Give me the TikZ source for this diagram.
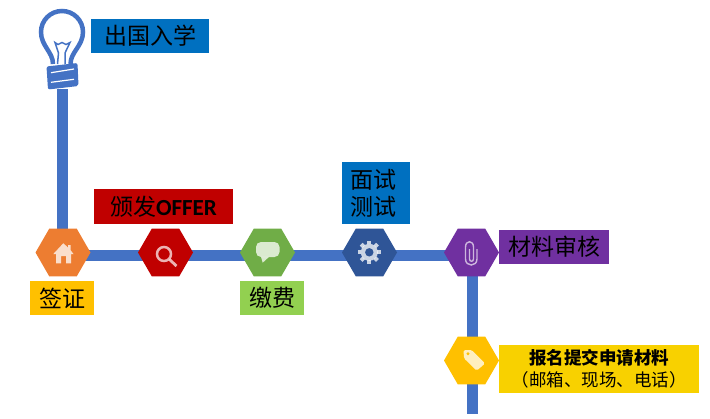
\documentclass[tikz,border=0pt]{standalone}
\usepackage{fontspec}
\newfontfamily\cjk{Noto Sans CJK SC}
\newfontfamily\lat{Carlito}
\usetikzlibrary{shapes.geometric,backgrounds}
\definecolor{pipeblue}{HTML}{4472C4}
\definecolor{boxblue}{HTML}{0070C0}
\definecolor{boxred}{HTML}{C00000}
\definecolor{boxamber}{HTML}{FFC000}
\definecolor{boxgreen}{HTML}{92D050}
\definecolor{boxpurple}{HTML}{7030A0}
\definecolor{boxyellow}{HTML}{F8D100}
\definecolor{hexorange}{HTML}{ED7D31}
\definecolor{hexgreen}{HTML}{70AD47}
\definecolor{hexnavy}{HTML}{2F5597}
\tikzset{
  hexa/.style={regular polygon,regular polygon sides=6,minimum size=55pt,inner sep=0pt,outer sep=0pt},
  pipe/.style={line width=11pt,draw=pipeblue},
  tagbox/.style={minimum height=34pt,inner sep=0pt,outer sep=0pt,align=center,font=\cjk\fontsize{23}{27}\selectfont,text=black},
  glyph/.style={fill=white,fill opacity=.75,draw=none}
}
\begin{document}
\begin{tikzpicture}[x=1pt,y=-1pt]
 \useasboundingbox (0,0) rectangle (710,418);
 \foreach \name/\x/\col in {visa/63/hexorange,offer/165.5/boxred,fee/267.5/hexgreen,test/369.5/hexnavy,review/471.5/boxpurple}{
 	\node[hexa,fill=\col] (\name) at (\x,252.5) {};}
 \node[hexa,fill=boxamber] (apply) at (471.5,360.5) {};
 \coordinate (bulb) at (62.5,89);
 \coordinate (tail) at (472.5,414);
 \begin{scope}[on background layer]
 	\draw[pipe] (bulb) -- (bulb |- visa.center);
 	\draw[pipe] ([yshift=-3pt]visa.center) -- ([yshift=-3pt]review.center);
 	\draw[pipe] (review.center -| tail) -- (tail);
 \end{scope}
 % labels
 \node[tagbox,fill=boxblue,minimum width=118pt] (goal) at (150,36) {出国入学};
 \node[tagbox,fill=boxred,minimum width=139pt,minimum height=35pt] (offerbox) at (163.5,206.5) {颁发{\lat\bfseries OFFER}};
 \node[tagbox,fill=boxamber,minimum width=64pt] (visabox) at (62,298) {签证};
 \node[tagbox,fill=boxgreen,minimum width=64pt] (feebox) at (272,298) {缴费};
 \node[tagbox,fill=boxblue,minimum width=68pt,minimum height=62pt] (testbox) at (376,193) {面试\hspace*{6pt}\\测试\hspace*{6pt}};
 \node[tagbox,fill=boxpurple,minimum width=110pt] (reviewbox) at (554,247) {材料审核};
 \node[tagbox,fill=boxyellow,minimum width=200pt,minimum height=48pt,font=\cjk\fontsize{17.5}{22}\selectfont] (applybox) at (599,369) {{\bfseries 报名提交申请材料}\\（邮箱、现场、电话）};
 % bulb
 \draw[pipeblue,line width=4.5pt] (53,64) .. controls (53,52) and (41,46) .. (41,32) .. controls (41,20.4) and (50.4,11) .. (62,11) .. controls (73.6,11) and (83,20.4) .. (83,32) .. controls (83,46) and (70.5,52) .. (70.5,64);
 \draw[pipeblue,line width=1.5pt] (57.5,64) -- (58.5,53) -- (55,42.5) -- (58,44.5) -- (62,42.5) -- (66,44.5) -- (70,42.5) -- (65,53) -- (65,64);
 \fill[pipeblue,rounded corners=2pt] (46.5,66.5) -- (77.5,63) -- (78.5,86) -- (48,89.5) -- cycle;
 \draw[white,line width=1.2pt] (51,72.7) -- (74,69);
 \draw[white,line width=1.2pt] (51,82.3) -- (74,79.3);
 % house
 \fill[glyph] (63.3,243.3) -- (68,247.5) -- (68,245) -- (70.5,245) -- (70.5,250) -- (73.5,254) -- (71,254) -- (71,263.3) -- (66,263.3) -- (66,256) -- (61,256) -- (61,263.3) -- (56,263.3) -- (56,254) -- (53.3,254) -- cycle;
 % magnifier
 \draw[white,opacity=.7,line width=2.5pt] (164,254) circle (7);
 \draw[white,opacity=.7,line width=2.8pt] (169.5,259.5) -- (176.5,266);
 % speech bubble
 \fill[glyph,rounded corners=5pt] (256,242) -- (279.5,242) -- (279.5,257) -- (256,257) -- cycle;
 \fill[glyph] (261,256.9) -- (262.7,262.7) -- (269,256.9) -- cycle;
 % gear
 \fill[white,opacity=.75] (369.3,252.3) circle (8.5);
 \foreach \a in {0,45,...,315}{
 	\draw[white,opacity=.75,line width=4pt] (369.3,252.3) ++(\a:8) -- ++(\a:3.5);}
 \fill[hexnavy] (369.3,252.3) circle (4.2);
 % clip
 \draw[white,opacity=.65,line width=1.4pt] (477,249) -- (477,259) .. controls (477,267) and (465.5,267) .. (465.5,259) -- (465.5,247) .. controls (465.5,240) and (473.5,240) .. (473.5,247) -- (473.5,259) .. controls (473.5,262) and (469.5,262) .. (469.5,259) -- (469.5,249);
 % tag
 \fill[glyph,rounded corners=1.5pt] (463.5,350) -- (471.7,350) -- (485,363.5) -- (476.7,370.7) -- (464,358.3) -- cycle;
 \fill[boxamber] (468,353.7) circle (1.6);
\end{tikzpicture}
\end{document}
